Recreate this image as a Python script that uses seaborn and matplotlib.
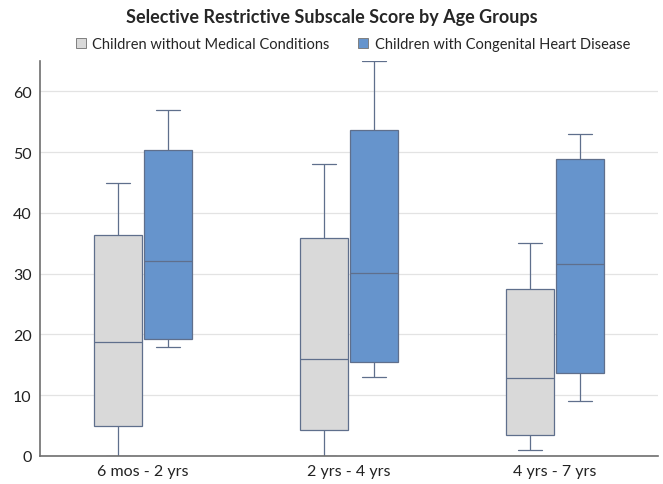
import pandas as pd
import matplotlib
matplotlib.use('Agg')
import matplotlib.pyplot as plt
from matplotlib.lines import Line2D
import seaborn as sns

# five-number summaries: min, q1, median, q3, max
age_groups = ['6 mos - 2 yrs', '2 yrs - 4 yrs', '4 yrs - 7 yrs']
series = ['Children without Medical Conditions', 'Children with Congenital Heart Disease']
without_mc = [
    [0, 5.0, 18.8, 36.3, 45],
    [0, 4.3, 16.0, 35.8, 48],
    [1, 3.5, 12.9, 27.4, 35],
]
with_chd = [
    [18, 19.3, 32.1, 50.3, 57],
    [13, 15.5, 30.1, 53.6, 65],
    [9, 13.7, 31.6, 48.9, 53],
]

rows = []
for name, groups in zip(series, [without_mc, with_chd]):
    for age, vals in zip(age_groups, groups):
        for v in vals:
            rows.append({'age': age, 'group': name, 'score': v})
df = pd.DataFrame(rows)

sns.set_style('white')
plt.rcParams['font.family'] = ['Lato', 'DejaVu Sans']

colors = ['#D9D9D9', '#6694CC']
edge = '#5F6F8C'

fig = plt.figure(figsize=(6.63, 4.85), dpi=100)
ax = fig.add_axes([40 / 663, 1 - 457 / 485, 618 / 663, 395 / 485])

sns.boxplot(data=df, x='age', y='score', hue='group', hue_order=series,
            palette=colors, saturation=1, whis=(0, 100), width=0.49, gap=0.05,
            linecolor=edge, linewidth=0.9, fliersize=0, legend=False, ax=ax)

ax.set_xlim(-0.5, 2.5)
ax.set_ylim(0, 65)
ax.set_yticks(range(0, 61, 10))
ax.yaxis.grid(True, color='#E3E3E3', linewidth=0.9)
ax.set_axisbelow(True)
ax.set_xlabel('')
ax.set_ylabel('')
ax.tick_params(axis='both', length=0, labelsize=11.5, colors='#222222', pad=6)
for side in ['top', 'right']:
    ax.spines[side].set_visible(False)
for side in ['left', 'bottom']:
    ax.spines[side].set_color('#6E6E6E')
    ax.spines[side].set_linewidth(1.2)

fig.suptitle('Selective Restrictive Subscale Score by Age Groups',
             fontsize=13, fontweight='bold', y=1 - 18 / 485, va='center')

handles = [Line2D([], [], marker='s', linestyle='', markersize=7,
                  markerfacecolor=c, markeredgecolor='#7F7F7F', markeredgewidth=0.7)
           for c in colors]
fig.legend(handles, series, loc='center', bbox_to_anchor=(352 / 663, 1 - 45 / 485),
           ncol=2, frameon=False, fontsize=10.5, handletextpad=0.3,
           columnspacing=1.8, handlelength=1.0)

fig.savefig('out.png', dpi=100)
